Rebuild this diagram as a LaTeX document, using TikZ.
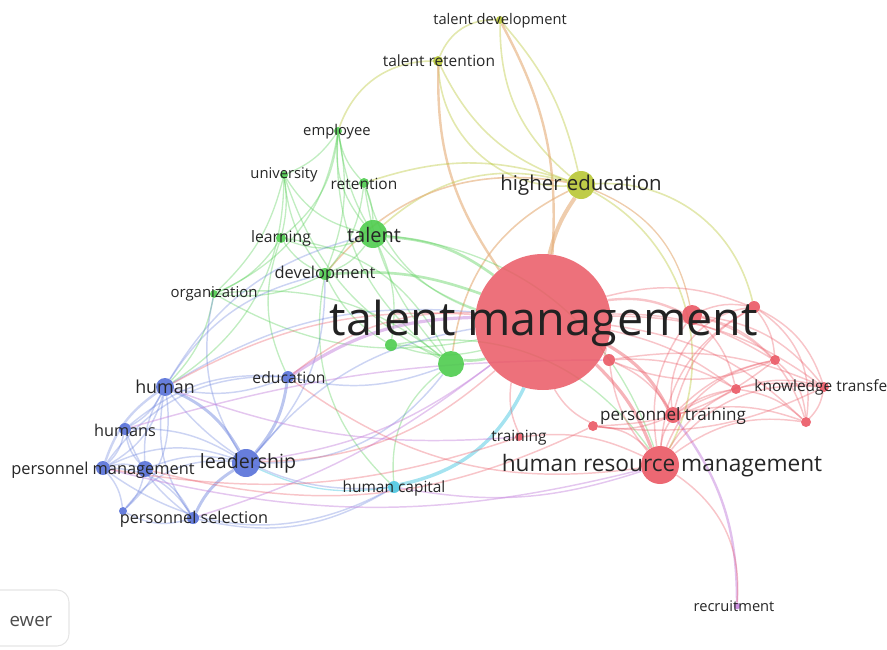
\documentclass[tikz,border=0pt]{standalone}
\usepackage{fontspec}
\setmainfont{Open Sans}
\usetikzlibrary{backgrounds}
\definecolor{cred}{RGB}{234,88,100}
\definecolor{cgreen}{RGB}{78,204,78}
\definecolor{cblue}{RGB}{86,112,216}
\definecolor{cyel}{RGB}{184,198,52}
\definecolor{ccyan}{RGB}{76,200,226}
\definecolor{cpurp}{RGB}{196,130,220}
\definecolor{corange}{RGB}{228,172,118}
\definecolor{ctext}{RGB}{38,38,38}
\tikzset{
  vn/.style={circle, inner sep=0pt, draw=none, fill opacity=0.9},
  labs/.style={text=ctext, inner sep=0pt, font=\fontsize{11.6}{13}\selectfont},
  labm/.style={text=ctext, inner sep=0pt, font=\fontsize{15}{18}\selectfont},
  labl/.style={text=ctext, inner sep=0pt, font=\fontsize{17}{20}\selectfont},
  labb/.style={text=ctext!90!black, inner sep=0pt, font=\fontsize{35}{40}\selectfont},
  er/.style={draw=cred, draw opacity=0.35, line width=1.1pt},
  erk/.style={draw=cred, draw opacity=0.45, line width=2.4pt},
  eg/.style={draw=cgreen, draw opacity=0.35, line width=1pt},
  egk/.style={draw=cgreen, draw opacity=0.4, line width=2pt},
  eb/.style={draw=cblue, draw opacity=0.3, line width=1.1pt},
  ebk/.style={draw=cblue, draw opacity=0.4, line width=2.2pt},
  ey/.style={draw=cyel, draw opacity=0.4, line width=1.2pt},
  eo/.style={draw=corange, draw opacity=0.6, line width=1.8pt},
  ec/.style={draw=ccyan, draw opacity=0.5, line width=2.6pt},
  ep/.style={draw=cpurp, draw opacity=0.45, line width=1.1pt},
  epk/.style={draw=cpurp, draw opacity=0.5, line width=2.4pt},
}
\begin{document}
\begin{tikzpicture}[x=0.75pt,y=-0.75pt]
\useasboundingbox (0,0) rectangle (887,649);
\clip (0,0) rectangle (887,649);

% ---------- nodes (circles) ----------
\node[vn, fill=cred, minimum size=102pt, fill opacity=0.85] (tm) at (543,322) {};
\node[vn, fill=cyel, minimum size=21pt] (he) at (581,185) {};
\node[vn, fill=cyel, minimum size=7.5pt] (tr) at (438,61) {};
\node[vn, fill=cyel, minimum size=6pt] (td) at (500,20) {};
\node[vn, fill=cgreen, minimum size=6pt] (emp) at (338,131) {};
\node[vn, fill=cgreen, minimum size=6pt] (uni) at (284,175) {};
\node[vn, fill=cgreen, minimum size=7.5pt] (ret) at (364,183) {};
\node[vn, fill=cgreen, minimum size=21pt] (tal) at (373,234) {};
\node[vn, fill=cgreen, minimum size=7.5pt] (lea) at (281,238) {};
\node[vn, fill=cgreen, minimum size=9pt] (dev) at (325,274) {};
\node[vn, fill=cgreen, minimum size=6pt] (org) at (214,294) {};
\node[vn, fill=cgreen, minimum size=9pt] (g1) at (391,345) {};
\node[vn, fill=cgreen, minimum size=19.5pt] (g2) at (451,364) {};
\node[vn, fill=cblue, minimum size=13.5pt] (hum) at (165,387) {};
\node[vn, fill=cblue, minimum size=9pt] (edu) at (288,377) {};
\node[vn, fill=cblue, minimum size=9pt] (hums) at (125,429) {};
\node[vn, fill=cblue, minimum size=10.5pt] (pm) at (103,468) {};
\node[vn, fill=cblue, minimum size=12pt] (b1) at (145,469) {};
\node[vn, fill=cblue, minimum size=21pt] (ld) at (246,463) {};
\node[vn, fill=cblue, minimum size=9pt] (ps) at (193,518) {};
\node[vn, fill=cblue, minimum size=6pt] (b2) at (123,511) {};
\node[vn, fill=ccyan, minimum size=9pt] (hc) at (394,487) {};
\node[vn, fill=cred, minimum size=6pt] (trn) at (519,437) {};
\node[vn, fill=cred, minimum size=28.5pt] (hrm) at (660,465) {};
\node[vn, fill=cred, minimum size=12pt] (pt) at (673,415) {};
\node[vn, fill=cred, minimum size=15pt] (r1) at (692,315) {};
\node[vn, fill=cred, minimum size=9pt] (r2) at (754,307) {};
\node[vn, fill=cred, minimum size=9pt] (r3) at (609,360) {};
\node[vn, fill=cred, minimum size=7.5pt] (r4) at (775,360) {};
\node[vn, fill=cred, minimum size=7.5pt] (r5) at (736,389) {};
\node[vn, fill=cred, minimum size=7.5pt] (kt) at (824,387) {};
\node[vn, fill=cred, minimum size=7.5pt] (r6) at (806,422) {};
\node[vn, fill=cred, minimum size=7.5pt] (r7) at (593,426) {};
\node[vn, fill=cpurp, minimum size=5pt] (rec) at (737,606) {};

% ---------- edges ----------
\begin{scope}[on background layer]
% yellow / orange
\draw[ey] (tr) to[bend left=35] (td);
\draw[ey] (tr) to[bend right=22] (he);
\draw[ey] (tr) to[bend right=45] (he);
\draw[ey] (td) to[bend left=14] (he);
\draw[ey] (td) to[bend right=25] (he);
\draw[ey] (tr) to[bend right=35] (emp);
\draw[eo] (td) to[bend left=16] (tm);
\draw[eo] (tr) to[bend right=18] (tm);
\draw[eo, line width=3pt] (he) to[bend right=10] (tm);
\draw[ey] (he) to[bend right=28] (tal);
\draw[ey] (he) to[bend right=18] (ret);
\draw[ey] (he) to[bend left=40] (r2);
\draw[ey] (he) to[bend left=45] (hrm);
\draw[eo, line width=1pt] (he) to[bend left=28] (r1);
\draw[eo, line width=1.2pt] (he) to[bend right=28] (g2);
\draw[eo, line width=1.2pt] (he) to[bend right=30] (dev);
% green
\foreach \a/\b/\c in {emp/uni/16,emp/ret/-16,emp/tal/-22,emp/lea/22,emp/dev/16,emp/org/28,
  uni/lea/10,uni/tal/-22,uni/dev/-16,uni/org/16,uni/g2/-22,ret/tal/10,ret/dev/16,tal/dev/16,
  tal/lea/22,tal/g1/16,lea/dev/-16,lea/org/16,dev/org/16,dev/g1/-16,org/g2/22,lea/g2/28,
  g1/g2/16,emp/g2/-28,ret/g2/-16,org/hum/16,uni/hum/28,lea/edu/-22,dev/hc/-28,ret/tm/-28,
  emp/tm/-32,g1/hrm/32,tal/hrm/32,org/tm/-20}
  \draw[eg] (\a) to[bend left=\c] (\b);
\draw[egk] (tal) to[bend left=16] (tm);
\draw[egk] (g2) to[bend right=8] (tm);
\draw[egk] (dev) to[bend left=12] (tm);
\draw[eg] (g1) to[bend right=16] (tm);
\draw[eg] (g2) to[bend right=28] (hc);
% blue
\foreach \a/\b/\c in {hum/hums/16,hum/pm/22,hum/b1/-16,hum/ps/-22,hum/edu/-16,hum/b2/28,
  hums/pm/16,hums/ld/16,hums/ps/-16,hums/b1/-16,pm/b1/16,pm/ld/22,pm/ps/28,pm/b2/16,
  b1/ld/16,b1/ps/16,b1/b2/16,ps/b2/22,ld/b2/-28,hums/edu/22,pm/edu/28,ld/org/22,
  ld/dev/-22,hum/dev/22,hum/tal/22,ps/hc/-22,pm/hc/-32,hum/hc/-28}
  \draw[eb] (\a) to[bend left=\c] (\b);
\draw[ebk] (hum) to[bend left=18] (ld);
\draw[ebk] (ld) to[bend right=16] (ps);
\draw[ebk] (ld) to[bend right=16] (edu);
\draw[eb, line width=1.8pt] (hum) to[bend right=18] (pm);
\draw[eb] (ld) to[bend left=20] (tm);
\draw[eb] (hum) to[bend left=18] (tm);
\draw[eb] (edu) to[bend right=16] (g2);
\draw[eb] (ld) to[bend right=26] (g2);
% cyan
\draw[ec] (hc) to[bend right=26] (tm);
\draw[draw=ccyan, draw opacity=0.45, line width=1pt] (hc) to[bend left=16] (ld);
% purple
\draw[epk] (edu) to[bend left=16] (tm);
\draw[ep] (ld) to[bend right=14] (tm);
\draw[ep] (hum) to[bend right=12] (trn);
\draw[ep] (pm) to[bend right=14] (hrm);
\draw[ep] (hums) to[bend left=8] (r3);
\draw[epk, line width=1.8pt] (rec) to[bend right=18] (pt);
\draw[ep] (hc) to[bend right=14] (hrm);
\draw[ep] (ps) to[bend right=10] (tm);
% red
\draw[erk] (tm) to[bend left=12] (hrm);
\draw[erk] (tm) to[bend left=16] (pt);
\draw[er, line width=1.8pt] (tm) to[bend left=16] (r1);
\foreach \a/\b/\c in {tm/r2/18,tm/r3/8,tm/r4/16,tm/r5/12,tm/kt/18,tm/r6/18,tm/r7/-16,
  tm/trn/-16,hrm/pt/12,hrm/r1/22,hrm/r2/28,hrm/r4/28,hrm/kt/28,hrm/r6/22,hrm/r5/16,
  hrm/r7/-22,hrm/r3/16,pt/r4/16,pt/kt/18,pt/r5/12,pt/r6/16,pt/r2/22,r1/r2/16,r1/kt/22,r1/r4/16,
  r2/r4/16,r2/kt/22,r2/r6/32,r3/kt/16,r3/r5/16,r4/r6/22,kt/r6/16,r5/kt/16,r7/kt/-16,
  r7/pt/-16,r5/r6/16,r3/r4/-22,r7/r4/-18,trn/hrm/16,r3/pt/16,r1/r5/16,r1/r6/28,r2/pt/-45}
  \draw[er] (\a) to[bend left=\c] (\b);
\draw[er] (tm) to[bend left=20] (ld);
\draw[er] (tm) to[bend right=16] (hum);
\draw[er] (trn) to[bend left=14] (pm);
\draw[er] (hrm) to[bend left=22] (edu);
\draw[er] (r7) to[bend left=20] (b1);
\draw[er] (hrm) to[bend left=30] (rec);
\draw[er] (tm) to[bend right=20] (edu);
\end{scope}

% ---------- labels ----------
\node[labb] (tml) at (544,323) {talent management};
\node[labm, font=\fontsize{15.3}{18}\selectfont] (hel) at (581,185) {higher education};
\node[labs] (trl) at (439,61) {talent retention};
\node[labs, font=\fontsize{11}{13}\selectfont] (tdl) at (500,21) {talent development};
\node[labs, font=\fontsize{11.1}{13}\selectfont] (empl) at (337,132) {employee};
\node[labs, font=\fontsize{11.1}{13}\selectfont] (unil) at (284,175) {university};
\node[labs] (retl) at (364,184) {retention};
\node[labm] (tall) at (374,235) {talent};
\node[labs, font=\fontsize{11.8}{13}\selectfont] (leal) at (281,238) {learning};
\node[labs, font=\fontsize{12.3}{14}\selectfont] (devl) at (325,274) {development};
\node[labs, font=\fontsize{11.2}{13}\selectfont] (orgl) at (214,294) {organization};
\node[labm, font=\fontsize{13.4}{16}\selectfont] (huml) at (165,387) {human};
\node[labs, font=\fontsize{11.8}{13}\selectfont] (edul) at (289,378) {education};
\node[labs, font=\fontsize{12.2}{14}\selectfont] (humsl) at (125,430) {humans};
\node[labs, font=\fontsize{12.3}{14}\selectfont] (pml) at (103,470) {personnel management};
\node[labm, font=\fontsize{14.7}{17}\selectfont] (ldl) at (248,463) {leadership};
\node[labs, font=\fontsize{12.2}{14}\selectfont] (psl) at (194,519) {personnel selection};
\node[labs] (hcl) at (394,488) {human capital};
\node[labs] (trnl) at (519,438) {training};
\node[labl] (hrml) at (662,466) {human resource management};
\node[labs, font=\fontsize{12.8}{15}\selectfont] (ptl) at (673,416) {personnel training};
\node[labs] (ktl) at (824,387) {knowledge transfer};
\node[labs, font=\fontsize{11}{13}\selectfont] (recl) at (734,606) {recruitment};

% ---------- VOSviewer button ----------
\node[draw=black!10, line width=0.8pt, rounded corners=9pt, minimum width=66pt, minimum height=42pt] (vbox) at (25,618) {};
\node[text=black!70, inner sep=0pt, font=\fontsize{14}{16}\selectfont] (vtext) at (31,621) {ewer};
\end{tikzpicture}
\end{document}
